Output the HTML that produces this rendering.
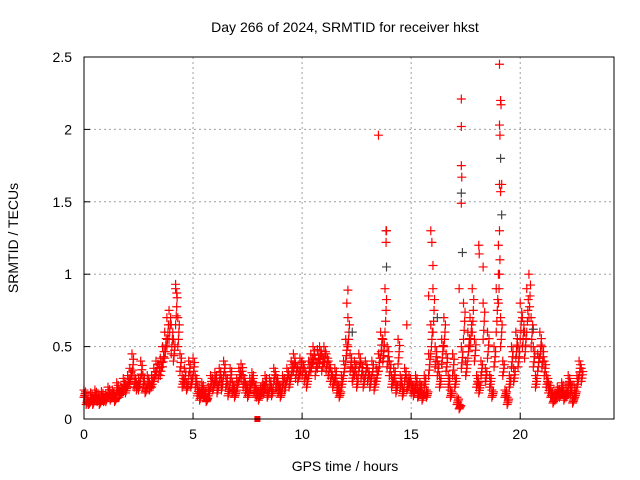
<!DOCTYPE html>
<html><head><meta charset="utf-8"><style>
body{margin:0;background:#fff;}
svg{display:block;font-family:"Liberation Sans",sans-serif;}
</style></head><body>
<svg id="chart" width="640" height="480" viewBox="0 0 640 480">
<rect x="0" y="0" width="640" height="480" fill="#fff"/>
<text x="345" y="32" font-size="14" text-anchor="middle">Day 266 of 2024, SRMTID for receiver hkst</text>
<text transform="translate(18,238) rotate(-90)" font-size="14" text-anchor="middle">SRMTID / TECUs</text>
<text x="345" y="471" font-size="14" text-anchor="middle">GPS time / hours</text>
<g id="grid"></g><g id="axes"></g><g id="marks"></g>
<rect x="84" y="57" width="530" height="362" fill="none" stroke="#000" stroke-width="1"/>
</svg>
<script>
const xTicks=[0,5,10,15,20];
const yTicks=[0,0.5,1,1.5,2,2.5];
const yTickLabels=["0","0.5","1","1.5","2","2.5"];
const hiValues=[
0.2,0.15,0.12,0.18,0.14,0.2,0.16,0.13,0.19,0.15,
0.17,0.22,0.18,0.2,0.15,0.25,0.2,0.22,0.28,0.24,
0.3,0.35,0.45,0.3,0.25,0.28,0.4,0.3,0.22,0.3,
0.25,0.3,0.35,0.4,0.38,0.42,0.5,0.6,0.7,0.75,
0.65,0.55,0.9,0.7,0.45,0.3,0.35,0.25,0.4,0.3,
0.42,0.3,0.22,0.18,0.25,0.2,0.15,0.22,0.3,0.28,
0.32,0.25,0.35,0.28,0.4,0.3,0.22,0.35,0.25,0.2,
0.28,0.35,0.38,0.3,0.25,0.2,0.28,0.32,0.25,0.2,
0.18,0.22,0.25,0.3,0.2,0.28,0.22,0.35,0.3,0.25,
0.2,0.3,0.28,0.35,0.3,0.4,0.45,0.38,0.35,0.42,
0.4,0.35,0.3,0.4,0.45,0.5,0.42,0.48,0.5,0.45,
0.5,0.45,0.4,0.35,0.3,0.35,0.25,0.2,0.3,0.4,
0.55,0.7,0.45,0.35,0.4,0.3,0.45,0.38,0.3,0.4,
0.35,0.3,0.4,0.28,0.35,0.45,0.6,0.55,0.9,0.5,
0.4,0.3,0.35,0.25,0.55,0.3,0.22,0.35,0.28,0.3,
0.25,0.22,0.3,0.2,0.25,0.18,0.3,0.2,0.45,0.65,
0.9,0.5,0.4,0.3,0.55,0.7,0.45,0.3,0.2,0.45,
0.3,0.15,0.1,0.5,0.8,0.4,0.6,0.7,0.9,0.55,
0.3,0.25,0.4,0.8,0.35,0.6,0.3,0.2,0.5,0.9,
1.2,0.7,0.4,0.2,0.15,0.3,0.5,0.35,0.6,0.5,
0.8,0.7,0.6,0.9,1.0,0.7,0.5,0.3,0.45,0.6,
0.5,0.4,0.3,0.25,0.2,0.15,0.18,0.22,0.2,0.25,
0.18,0.2,0.3,0.25,0.15,0.2,0.3,0.4,0.35];
const loValues=[
0.15,0.1,0.1,0.12,0.1,0.14,0.12,0.1,0.14,0.12,
0.12,0.15,0.13,0.15,0.12,0.18,0.15,0.17,0.2,0.18,
0.22,0.25,0.3,0.22,0.2,0.2,0.28,0.22,0.18,0.22,
0.2,0.22,0.26,0.3,0.28,0.3,0.36,0.42,0.5,0.55,
0.45,0.4,0.65,0.5,0.33,0.22,0.25,0.2,0.3,0.22,
0.3,0.22,0.16,0.13,0.18,0.15,0.12,0.16,0.22,0.2,
0.24,0.18,0.26,0.2,0.3,0.22,0.16,0.26,0.18,0.15,
0.2,0.26,0.28,0.22,0.18,0.15,0.2,0.24,0.18,0.15,
0.13,0.16,0.18,0.22,0.15,0.2,0.16,0.26,0.22,0.18,
0.15,0.22,0.2,0.26,0.22,0.3,0.33,0.28,0.26,0.3,
0.3,0.26,0.22,0.3,0.33,0.38,0.3,0.35,0.38,0.33,
0.36,0.33,0.3,0.26,0.22,0.26,0.18,0.15,0.22,0.3,
0.4,0.5,0.33,0.26,0.3,0.22,0.33,0.28,0.22,0.3,
0.26,0.22,0.3,0.2,0.26,0.33,0.42,0.4,0.6,0.36,
0.3,0.22,0.26,0.18,0.38,0.22,0.16,0.26,0.2,0.22,
0.18,0.16,0.22,0.15,0.18,0.13,0.22,0.15,0.3,0.45,
0.6,0.36,0.3,0.22,0.38,0.5,0.33,0.22,0.15,0.3,
0.22,0.1,0.07,0.35,0.55,0.3,0.42,0.5,0.6,0.4,
0.22,0.18,0.3,0.55,0.26,0.42,0.22,0.15,0.36,0.6,
0.8,0.5,0.3,0.15,0.1,0.22,0.36,0.26,0.42,0.36,
0.55,0.5,0.42,0.6,0.7,0.5,0.36,0.22,0.33,0.42,
0.36,0.3,0.22,0.18,0.15,0.11,0.13,0.16,0.15,0.18,
0.13,0.15,0.22,0.18,0.11,0.15,0.22,0.3,0.26];
const outlierTimes=[13.5,13.85,13.87,15.9,15.95,16.0,17.3,17.3,17.3,17.32,17.3,17.2,18.1,18.12,18.3,19.05,19.1,19.12,19.05,19.07,19.05,19.1,19.15,19.05,19.0,4.2,4.25,12.1,12.05,14.8,15.8];
const outlierValues=[1.96,1.22,1.3,1.3,1.22,1.06,2.21,2.02,1.75,1.67,1.49,0.9,1.2,1.14,1.05,2.45,2.2,2.17,2.03,1.96,1.62,1.57,1.62,1.3,1.0,0.93,0.87,0.89,0.8,0.65,0.85];
const grayTimes=[13.85,13.87,17.3,17.35,19.1,19.15,16.2,12.3,20.6];
const grayValues=[1.3,1.05,1.56,1.15,1.8,1.41,0.7,0.6,0.62];

const X0=84,X1=614,Y0=419,Y1=57,XMAX=24.3,YMAX=2.5;
const sx=v=>X0+v/XMAX*(X1-X0);
const sy=v=>Y0-v/YMAX*(Y0-Y1);
const NS="http://www.w3.org/2000/svg";
const grid=document.getElementById('grid'),axes=document.getElementById('axes'),marks=document.getElementById('marks');
function mk(tag,attrs,parent){const e=document.createElementNS(NS,tag);for(const k in attrs)e.setAttribute(k,attrs[k]);parent.appendChild(e);return e;}
xTicks.forEach(t=>{
 const x=sx(t);
 if(t>0){const g=mk('line',{x1:x,x2:x,y1:Y0,y2:Y1,stroke:'#a0a0a0','stroke-dasharray':'2,3'},grid);
 
 }
 const tk=mk('line',{x1:x,x2:x,y1:Y0,y2:Y0-6,stroke:'#000'},axes);
 
 
 const tl=mk('text',{x:x,y:Y0+20,'font-size':14,'text-anchor':'middle'},axes);tl.textContent=t;
 
 
});
yTicks.forEach((t,i)=>{
 const y=sy(t);
 if(t>0){const g=mk('line',{x1:X0,x2:X1,y1:y,y2:y,stroke:'#a0a0a0','stroke-dasharray':'2,3'},grid);
 
 }
 const tk=mk('line',{x1:X0,x2:X0+6,y1:y,y2:y,stroke:'#000'},axes);
 
 
 const tl=mk('text',{x:X0-12,y:y+5,'font-size':14,'text-anchor':'end'},axes);tl.textContent=yTickLabels[i];
 
 
});
function plus(t,v,color,name){
 const x=sx(t),y=sy(v);
 const p=mk('path',{d:`M${x-4.5},${y}H${x+4.5}M${x},${y-4.5}V${y+4.5}`,stroke:color,'stroke-width':1.2,fill:'none'},marks);
 
 
}
hiValues.forEach((v,i)=>{
 const t=i*0.1, lo=loValues[i];
 plus(t,lo,'#f00','srmtid-point');
 plus(t+0.05,(v+lo)/2,'#f00','srmtid-point');
 plus(t+0.03,lo+(v-lo)*0.25,'#f00','srmtid-point');
 plus(t+0.07,lo+(v-lo)*0.75,'#f00','srmtid-point');
 plus(t,v,'#f00','srmtid-point');
});
grayTimes.forEach((t,i)=>plus(t,grayValues[i],'#444','srmtid-gps-point'));
outlierTimes.forEach((t,i)=>plus(t,outlierValues[i],'#f00','srmtid-outlier'));
const sq=mk('rect',{x:sx(7.95)-3,y:sy(0)-3,width:6,height:6,fill:'#f00'},marks);


</script>
</body></html>
